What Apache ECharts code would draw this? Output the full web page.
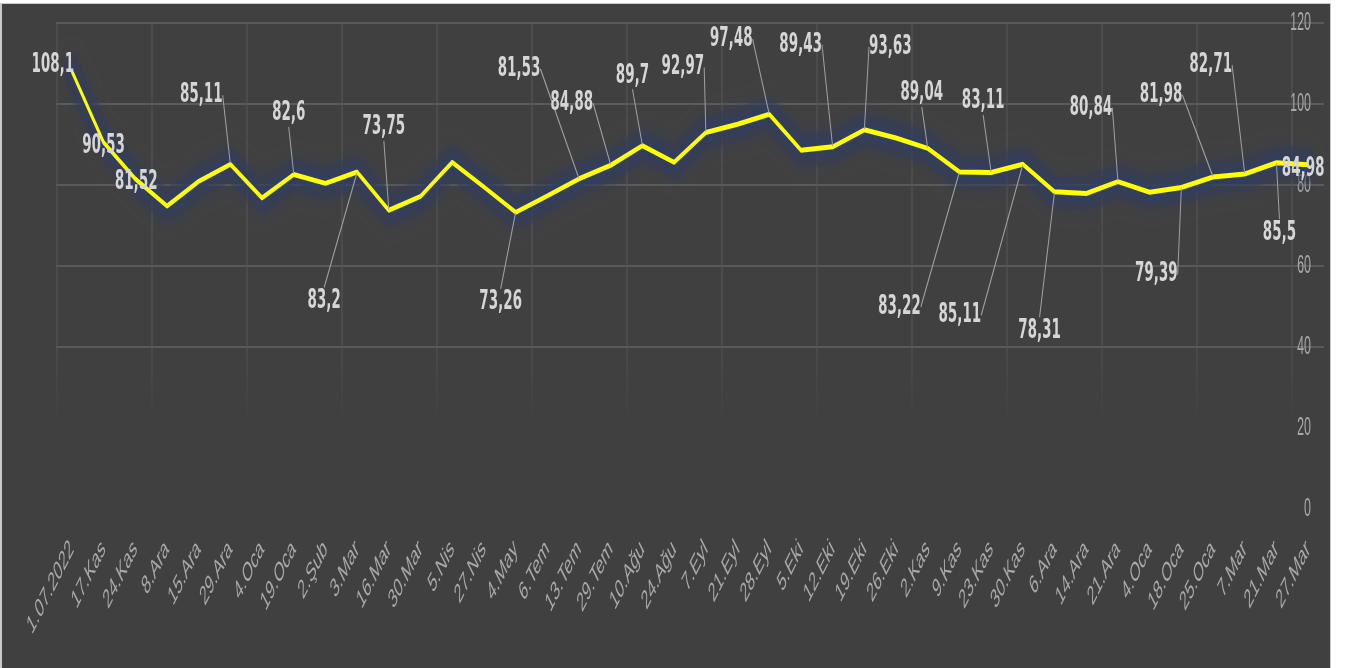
<!DOCTYPE html>
<html>
<head>
<meta charset="utf-8">
<script src="https://cdn.jsdelivr.net/npm/echarts@6/dist/echarts.min.js"></script>
<style>
  html, body { margin: 0; padding: 0; background: #ffffff; width: 1349px; height: 668px; overflow: hidden; }
  #frame { position: absolute; left: 0; top: 3px; width: 1331px; height: 665px; background: #c9c9c9; }
  #wrap { position: absolute; left: 2px; top: 4px; width: 1328px; height: 664px; overflow: hidden; background: #404040; }
  #chart { position: absolute; left: 0; top: 0; width: 2656px; height: 664px; transform: scaleX(0.5); transform-origin: 0 0; }
</style>
</head>
<body>
<div id="frame"></div>
<div id="wrap"><div id="chart"></div></div>
<script>
// ---- data ----
const categories = ['1.07.2022','17.Kas','24.Kas','8.Ara','15.Ara','29.Ara','4.Oca','19.Oca','2.Şub','3.Mar',
  '16.Mar','30.Mar','5.Nis','27.Nis','4.May','6.Tem','13.Tem','29.Tem','10.Ağu','24.Ağu',
  '7.Eyl','21.Eyl','28.Eyl','5.Eki','12.Eki','19.Eki','26.Eki','2.Kas','9.Kas','23.Kas',
  '30.Kas','6.Ara','14.Ara','21.Ara','4.Oca','18.Oca','25.Oca','7.Mar','21.Mar','27.Mar'];
const values = [108.1, 90.53, 81.52, 74.8, 80.9, 85.11, 76.8, 82.6, 80.4, 83.2,
  73.75, 77.2, 85.6, 79.5, 73.26, 77.3, 81.53, 84.88, 89.7, 85.6,
  92.97, 95.0, 97.48, 88.6, 89.43, 93.63, 91.6, 89.04, 83.22, 83.11,
  85.11, 78.31, 77.9, 80.84, 78.2, 79.39, 81.98, 82.71, 85.5, 84.98];
const labeledIndices = [0,1,2,5,7,9,10,14,16,17,18,20,22,24,25,27,28,29,30,31,33,35,36,37,38,39];
const yMin = 0, yMax = 120, yStep = 20;

// ---- label placement (offsets from the point, in screen px) ----
const labelOffsets = {
  0: [-19,-6], 1: [0,4], 2: [1,3], 5: [-29,-69], 7: [-5,-61], 9: [-33,129], 10: [-5,-83],
  14: [-15,90], 16: [-60,-110], 17: [-39,-62], 18: [-10,-70], 20: [-23,-65], 22: [-38,-75],
  24: [-32,-102], 25: [26,-83], 27: [-6,-55], 28: [-60,135], 29: [-8,-71], 30: [-63,151],
  31: [-15,139], 33: [-27,-74], 35: [-25,87], 36: [-52,-82], 37: [-34,-109], 38: [3,70], 39: [-5,4]
};
const noLeader = [0,1,2,39];
const SX = 2; // horizontal scale of the drawing canvas

const seriesData = values.map(function (v, i) {
  const item = { value: v };
  if (labeledIndices.indexOf(i) >= 0) {
    item.label = { show: true };
    item.labelLine = { show: noLeader.indexOf(i) < 0 };
  }
  return item;
});

const nTicks = (yMax - yMin) / yStep + 1;
const hColors = [];
for (let k = 0; k < nTicks; k++) hColors.push(k < 2 ? 'rgba(0,0,0,0)' : '#5a5a5a');

const chart = echarts.init(document.getElementById('chart'), null, { renderer: 'canvas' });
chart.setOption({
  animation: false,
  backgroundColor: '#404040',
  grid: [
    { left: 108, right: 12, top: 19, bottom: 159 },
    { left: 110, right: 76, top: 19, bottom: 244 }
  ],
  xAxis: [
    {
      type: 'category', gridIndex: 0, data: categories, boundaryGap: true,
      axisLine: { show: false }, axisTick: { show: false }, splitLine: { show: false },
      axisLabel: { interval: 0, rotate: 45, margin: 36, fontSize: 27, color: '#a8a8a8',
        fontFamily: 'Liberation Sans, Arial, sans-serif' }
    },
    {
      type: 'value', gridIndex: 1, min: 0, max: 13, interval: 1,
      axisLine: { show: false }, axisTick: { show: false }, axisLabel: { show: false },
      splitLine: { show: true, lineStyle: { width: 2, color: new echarts.graphic.LinearGradient(0, 0, 0, 1, [
        { offset: 0, color: '#575757' }, { offset: 0.78, color: '#575757' }, { offset: 1, color: 'rgba(87,87,87,0)' }
      ]) } }
    }
  ],
  yAxis: [
    {
      type: 'value', gridIndex: 0, position: 'right', min: yMin, max: yMax, interval: yStep,
      axisLine: { show: false }, axisTick: { show: false },
      axisLabel: { inside: true, margin: 26, fontSize: 25, color: '#a8a8a8',
        fontFamily: 'Liberation Sans, Arial, sans-serif' },
      splitLine: { show: true, lineStyle: { width: 2, color: hColors } }
    },
    { type: 'value', gridIndex: 1, show: false, min: 0, max: 1 }
  ],
  series: [
    {
      // soft navy glow under the line (outer)
      type: 'line', xAxisIndex: 0, yAxisIndex: 0, data: values,
      showSymbol: false, silent: true, z: 1,
      lineStyle: { color: 'rgba(50,60,88,0.4)', width: 34, join: 'round', cap: 'round', shadowColor: 'rgba(50,60,88,0.6)', shadowBlur: 16 },
      emphasis: { disabled: true }, label: { show: false }
    },
    {
      // soft navy glow under the line (inner)
      type: 'line', xAxisIndex: 0, yAxisIndex: 0, data: values,
      showSymbol: false, silent: true, z: 2,
      lineStyle: { color: 'rgba(50,63,98,0.7)', width: 16, shadowColor: 'rgba(50,63,98,1)', shadowBlur: 20, join: 'round', cap: 'round' },
      emphasis: { disabled: true }, label: { show: false }
    },
    {
      type: 'line',
      xAxisIndex: 0, yAxisIndex: 0,
      data: seriesData,
      symbol: 'circle', symbolSize: 2, showSymbol: true, showAllSymbol: true,
      itemStyle: { color: 'rgba(0,0,0,0)' },
      lineStyle: { color: '#ffff00', width: 5 },
      emphasis: { disabled: true },
      label: {
        show: false, position: 'inside',
        fontSize: 27, fontWeight: 'bold', color: '#d6d6d6',
        fontFamily: 'DejaVu Sans, sans-serif',
        formatter: function (p) { return String(p.value).replace('.', ','); }
      },
      labelLine: { show: true, lineStyle: { color: '#a0a0a0', width: 2 } },
      labelLayout: function (params) {
        const o = labelOffsets[params.dataIndex];
        if (!o) return {};
        return { dx: o[0] * SX, dy: o[1] };
      },
      z: 5
    }
  ]
});
</script>
</body>
</html>
